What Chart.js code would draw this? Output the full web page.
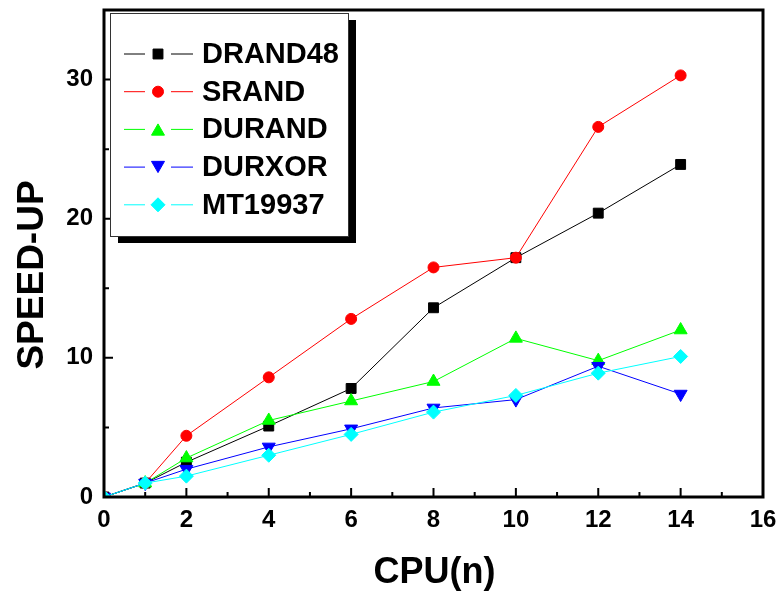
<!DOCTYPE html>
<html>
<head>
<meta charset="utf-8">
<script src="https://cdn.jsdelivr.net/npm/chart.js"></script>
<style>
  body { margin: 0; background: #fff; }
  #wrap { width: 781px; height: 597px; }
</style>
</head>
<body>
<div id="wrap"><canvas id="speedup" width="781" height="597"></canvas></div>
<script>
const cpus = [0, 1, 2, 4, 6, 8, 10, 12, 14];
const drand48 = [0, 1, 2.5, 5.1, 7.8, 13.6, 17.2, 20.4, 23.9];
const srand = [0, 1, 4.4, 8.6, 12.8, 16.5, 17.2, 26.6, 30.3];
const durand = [0, 1, 2.8, 5.5, 6.9, 8.3, 11.4, 9.8, 12.0];
const durxor = [0, 1, 2.0, 3.6, 4.9, 6.4, 7.0, 9.4, 7.4];
const mt19937 = [0, 1, 1.5, 3.0, 4.5, 6.1, 7.3, 8.9, 10.1];

const xMajor = [0, 2, 4, 6, 8, 10, 12, 14, 16];
const xMinor = [1, 3, 5, 7, 9, 11, 13, 15];
const yMajor = [0, 10, 20, 30];
const yMinor = [5, 15, 25, 35];

const FONT = '"Liberation Sans", Arial, Helvetica, sans-serif';

function series(label, values, color, style, radius, rotation, order) {
    return {
        label: label,
        data: cpus.map((c, i) => ({ x: c, y: values[i] })),
        borderColor: color,
        backgroundColor: color,
        borderWidth: 1,
        tension: 0,
        pointStyle: style,
        pointRadius: radius,
        pointRotation: rotation,
        pointBackgroundColor: color,
        pointBorderColor: color,
        pointBorderWidth: 1,
        order: order
    };
}

const datasets = [
    series('DRAND48', drand48, '#000000', 'rect', 7, 0, 5),
    series('SRAND', srand, '#ff0000', 'circle', 5.5, 0, 4),
    series('DURAND', durand, '#00ff00', 'triangle', 7.5, 0, 3),
    series('DURXOR', durxor, '#0000ff', 'triangle', 7.5, 180, 2),
    series('MT19937', mt19937, '#00ffff', 'rectRot', 7, 0, 1)
];

// frame around the plot plus inward major/minor ticks
const frameTicks = {
    id: 'frameTicks',
    afterDatasetsDraw(chart) {
        const { ctx, chartArea: a, scales: { x, y } } = chart;
        ctx.save();
        ctx.strokeStyle = '#000';
        ctx.lineWidth = 2;
        ctx.beginPath();
        xMajor.forEach(v => { const p = x.getPixelForValue(v); ctx.moveTo(p, a.bottom); ctx.lineTo(p, a.bottom - 9); });
        xMinor.forEach(v => { const p = x.getPixelForValue(v); ctx.moveTo(p, a.bottom); ctx.lineTo(p, a.bottom - 5); });
        yMajor.forEach(v => { const p = y.getPixelForValue(v); ctx.moveTo(a.left, p); ctx.lineTo(a.left + 9, p); });
        yMinor.forEach(v => { const p = y.getPixelForValue(v); ctx.moveTo(a.left, p); ctx.lineTo(a.left + 5, p); });
        ctx.stroke();
        ctx.lineWidth = 3;
        ctx.strokeRect(a.left, a.top, a.right - a.left, a.bottom - a.top);
        ctx.restore();
    },
    afterDraw(chart) {
        const { ctx, chartArea: a } = chart;
        ctx.save();
        ctx.fillStyle = '#000';

        // axis titles
        ctx.font = 'bold 36px ' + FONT;
        ctx.textAlign = 'center';
        ctx.textBaseline = 'alphabetic';
        ctx.fillText('CPU(n)', (a.left + a.right) / 2 + 1, a.bottom + 86);
        ctx.translate(43, 275);
        ctx.rotate(-Math.PI / 2);
        ctx.font = 'bold 37px ' + FONT;
        ctx.fillText('SPEED-UP', 0, 0);
        ctx.restore();

        // legend box with drop shadow
        ctx.save();
        const bx = a.left + 6, by = a.top + 3, bw = 238, bh = 223;
        ctx.fillStyle = '#000';
        ctx.fillRect(bx + 8, by + 7, bw, bh);
        ctx.fillStyle = '#fff';
        ctx.fillRect(bx, by, bw, bh);
        ctx.strokeStyle = '#333';
        ctx.lineWidth = 1;
        ctx.strokeRect(bx + 0.5, by + 0.5, bw, bh);

        ctx.font = 'bold 29px ' + FONT;
        ctx.textAlign = 'left';
        ctx.textBaseline = 'middle';
        chart.data.datasets.forEach((ds, i) => {
            const ry = by + 41 + i * 37.7;
            const mx = bx + 48;
            ctx.strokeStyle = ds.borderColor;
            ctx.lineWidth = 1;
            ctx.beginPath();
            ctx.moveTo(bx + 14, ry); ctx.lineTo(bx + 35, ry);
            ctx.moveTo(bx + 61, ry); ctx.lineTo(bx + 83, ry);
            ctx.stroke();
            ctx.fillStyle = ds.pointBackgroundColor;
            Chart.helpers.drawPoint(ctx, {
                pointStyle: ds.pointStyle,
                radius: ds.pointRadius,
                rotation: ds.pointRotation,
                borderWidth: 1
            }, mx, ry + (ds.pointStyle === 'triangle' ? (ds.pointRotation ? -2 : 2) : 0));
            ctx.fillStyle = '#000';
            ctx.fillText(ds.label, bx + 92, ry + 1);
        });
        ctx.restore();
    }
};

new Chart(document.getElementById('speedup'), {
    type: 'line',
    data: { datasets: datasets },
    plugins: [frameTicks],
    options: {
        responsive: false,
        animation: false,
        layout: { padding: { top: 10, right: 18, left: 0, bottom: 0 } },
        plugins: {
            legend: { display: false },
            tooltip: { enabled: false }
        },
        scales: {
            x: {
                type: 'linear',
                min: 0,
                max: 16,
                afterBuildTicks: s => { s.ticks = xMajor.map(v => ({ value: v })); },
                afterFit: s => { s.height = 100; s.paddingLeft = 0; s.paddingRight = 0; },
                grid: { display: false, drawTicks: false },
                border: { display: false },
                ticks: {
                    color: '#000',
                    padding: 9,
                    maxRotation: 0,
                    font: { family: FONT, size: 24, weight: 'bold' }
                }
            },
            y: {
                type: 'linear',
                min: 0,
                max: 35,
                afterBuildTicks: s => { s.ticks = yMajor.map(v => ({ value: v })); },
                afterFit: s => { s.width = 104; s.paddingTop = 0; s.paddingBottom = 0; },
                grid: { display: false, drawTicks: false },
                border: { display: false },
                ticks: {
                    color: '#000',
                    padding: 11,
                    font: { family: FONT, size: 24, weight: 'bold' }
                }
            }
        }
    }
});
</script>
</body>
</html>
